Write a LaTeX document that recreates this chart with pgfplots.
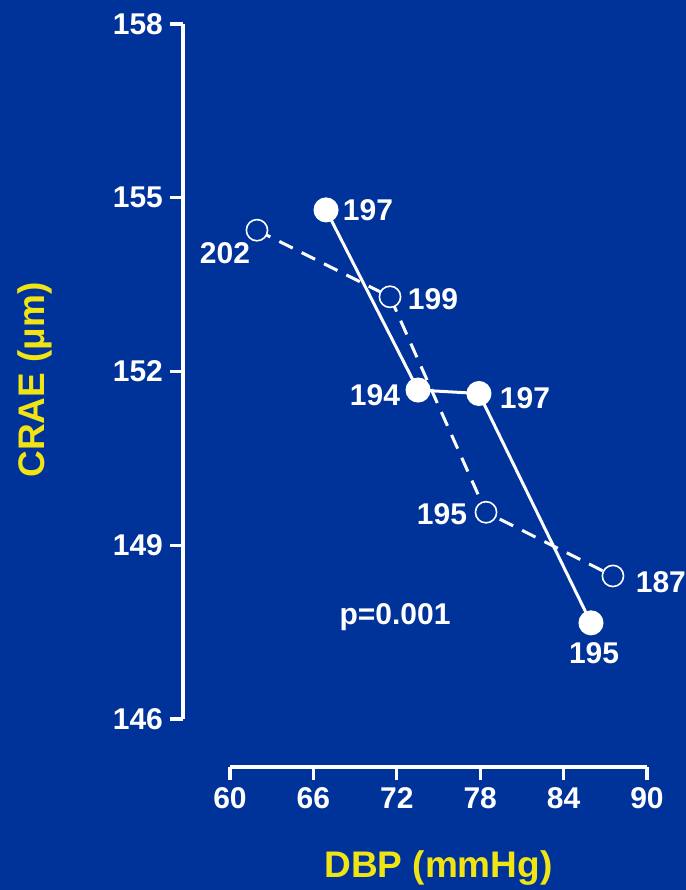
\documentclass[border=0pt]{standalone}
\usepackage{fontspec}
\setmainfont{Liberation Sans}
\usepackage{pgfplots}
\pgfplotsset{compat=1.18}
\definecolor{bg}{HTML}{003399}
\definecolor{ylab}{RGB}{240,228,20}
\begin{document}
\begin{tikzpicture}
\fill[bg] (-115pt,-85.5pt) rectangle (228pt,359.5pt);
\begin{axis}[
  at={(0,0)}, anchor=south west,
  scale only axis, width=208.5pt, height=347.5pt,
  xmin=60, xmax=90, ymin=146, ymax=158,
  axis x line=bottom, axis y line=left,
  axis x line shift=24pt, axis y line shift=23.5pt,
  axis line style={white, line width=1.6pt, -},
  xtick={60,66,...,90}, ytick={146,149,...,158},
  tick align=outside, major tick length=6.5pt,
  tick style={white, line width=1.6pt},
  minor tick num=0,
  /pgf/number format/assume math mode=true,
  ticklabel style={font=\fontsize{15}{16}\selectfont\bfseries, text=white},
  xlabel={DBP (mmHg)}, ylabel={CRAE (μm)},
  every axis x label/.style={at={(axis description cs:0.5,-0.2144)}, anchor=center},
  every axis y label/.style={at={(axis description cs:-0.4676,0.4878)}, anchor=center, rotate=90},
  xlabel style={font=\fontsize{18.5}{20}\selectfont\bfseries, text=ylab},
  ylabel style={font=\fontsize{18.5}{20}\selectfont\bfseries, text=ylab},
  clip=false,
]
\addplot[white, line width=1.5pt, mark=*, mark size=5.5pt, mark options={solid, fill=white, draw=white}]
  coordinates {(66.91,154.79) (73.53,151.68) (77.91,151.62) (85.97,147.66)};
\addplot[white, line width=1.5pt, dash pattern=on 7.5pt off 5pt, mark=*, mark size=5.3pt, mark options={solid, draw=white, fill=bg, line width=0.8pt}]
  coordinates {(61.94,154.44) (71.51,153.29) (78.42,149.57) (87.55,148.47)};
\begin{scope}[every node/.style={font=\fontsize{15}{16}\selectfont\bfseries, text=white}]
\node at (axis cs:69.93,154.79) {197};
\node at (axis cs:59.64,154.05) {202};
\node at (axis cs:74.60,153.25) {199};
\node at (axis cs:70.43,151.59) {194};
\node at (axis cs:81.22,151.54) {197};
\node at (axis cs:75.25,149.54) {195};
\node at (axis cs:91.00,148.37) {187};
\node at (axis cs:86.19,147.14) {195};
\node at (axis cs:71.87,147.76) {p=0.001};
\end{scope}
\end{axis}
\pgfresetboundingbox
\path[use as bounding box] (-115pt,-85.5pt) rectangle (228pt,359.5pt);
\end{tikzpicture}
\end{document}
